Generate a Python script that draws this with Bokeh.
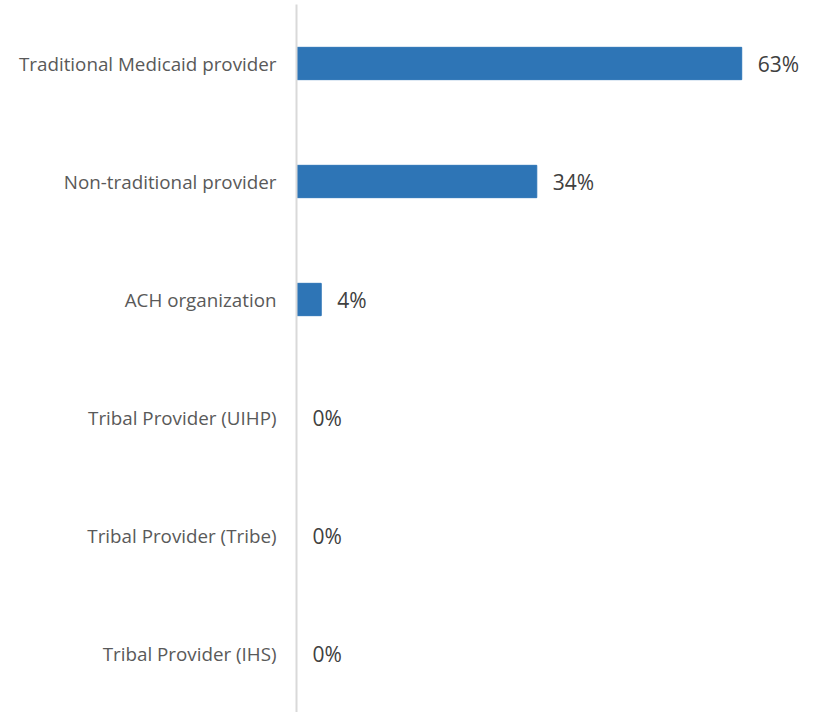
from bokeh.plotting import figure
from bokeh.models import FactorRange, Range1d, ColumnDataSource
from bokeh.core.properties import value
from bokeh.embed import file_html
from bokeh.resources import INLINE

categories = ["Traditional Medicaid provider", "Non-traditional provider", "ACH organization",
              "Tribal Provider (UIHP)", "Tribal Provider (Tribe)", "Tribal Provider (IHS)"]
values = [63.0, 34.0, 3.5, 0.0, 0.0, 0.0]
labels = ["63%", "34%", "4%", "0%", "0%", "0%"]

src = ColumnDataSource(dict(cat=categories, val=values, lab=labels))

p = figure(width=814, height=712, output_backend="svg", toolbar_location=None,
           y_range=FactorRange(factors=list(reversed(categories)), range_padding=0),
           x_range=Range1d(0, 73.3), min_border_left=296, min_border_right=0,
           min_border_top=4, min_border_bottom=0)
p.outline_line_color = None
p.grid.visible = False
p.xaxis.visible = False

p.hbar(y="cat", right="val", left=0, height=0.274, source=src, color="#2E75B6")
p.text(x="val", y="cat", text="lab", source=src, x_offset=16, text_baseline="middle",
       text_align="left", text_font=value("Open Sans"), text_font_size="21px", text_color="#404040")

ya = p.yaxis[0]
ya.axis_line_color = "#d9d9d9"
ya.axis_line_width = 2
ya.major_tick_line_color = None
ya.minor_tick_line_color = None
ya.major_label_standoff = 14
ya.major_label_text_font = "Open Sans"
ya.major_label_text_font_size = "18.8px"
ya.major_label_text_color = "#595959"

open("out.html", "w").write(file_html(p, INLINE))
